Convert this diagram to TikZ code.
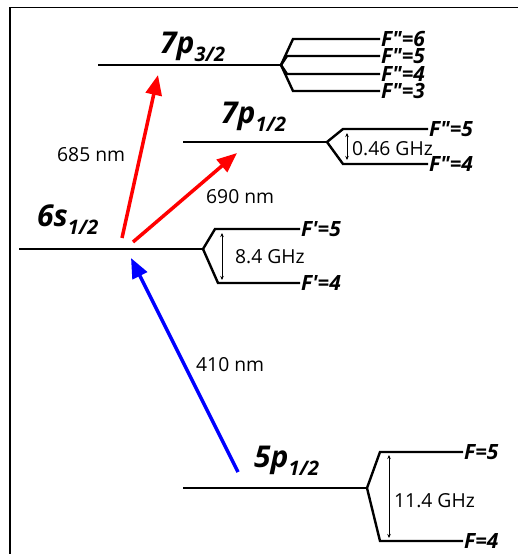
\documentclass[tikz,border=0pt]{standalone}
\usepackage{fontspec}
\setmainfont{Open Sans}
\usetikzlibrary{arrows.meta}
\begin{document}
\begin{tikzpicture}[x=1pt,y=-1pt,
  lvl/.style={line width=2.4pt, line join=miter},
  flab/.style={anchor=west, inner xsep=1pt, inner ysep=0pt, text height=15pt, text depth=0pt, font=\fontsize{21}{21}\selectfont\bfseries\itshape},
  txt/.style={anchor=base west, inner sep=0pt, font=\fontsize{19.3}{19.3}\selectfont},
  biglab/.style={anchor=base west, inner sep=0pt, font=\fontsize{30}{30}\selectfont\bfseries\itshape},
  laser/.style={line width=3.5pt, -{Triangle[length=20pt,width=16pt]}},
  gaparrow/.style={line width=0.8pt, {Stealth[length=4pt,width=3.5pt]}-{Stealth[length=4pt,width=3.5pt]}},
]
\newcommand{\subs}[1]{\raisebox{-8pt}{\fontsize{20}{20}\selectfont #1}}
\useasboundingbox (0,0) rectangle (518,554);
\draw[line width=1.5pt] (10,554) -- (10,7.5) -- (518,7.5);

% 7p 3/2
\coordinate (a0) at (98,65); \coordinate (a1) at (281,65);
\draw[lvl] (a0) -- (a1);
\coordinate (a6s) at (293,39); \coordinate (a6e) at (380,39);
\coordinate (a5s) at (287,56); \coordinate (a5e) at (380,56);
\coordinate (a4s) at (287,74); \coordinate (a4e) at (380,74);
\coordinate (a3s) at (293,91); \coordinate (a3e) at (380,91);
\draw[lvl] (a1) -- (a6s) -- (a6e);
\draw[lvl] (a1) -- (a5s) -- (a5e);
\draw[lvl] (a1) -- (a4s) -- (a4e);
\draw[lvl] (a1) -- (a3s) -- (a3e);
\node[flab] (f6) at (a6e) {F″=6};
\node[flab] (f5) at (a5e) {F″=5};
\node[flab] (f4) at (a4e) {F″=4};
\node[flab] (f3) at (a3e) {F″=3};
\node[biglab] (l7p3) at (160,53) {7p\subs{3/2}};

% 7p 1/2
\coordinate (b0) at (183,142); \coordinate (b1) at (327,142);
\draw[lvl] (b0) -- (b1);
\coordinate (b5s) at (343,129); \coordinate (b5e) at (428,129);
\coordinate (b4s) at (343,164); \coordinate (b4e) at (428,164);
\draw[lvl] (b1) -- (b5s) -- (b5e);
\draw[lvl] (b1) -- (b4s) -- (b4e);
\node[flab] (g5) at (b5e) {F″=5};
\node[flab] (g4) at (b4e) {F″=4};
\coordinate (bg1) at (347,133); \coordinate (bg2) at (347,160);
\draw[gaparrow] (bg1) -- (bg2);
\node[txt] (t046) at (352,155) {0.46 GHz};
\node[biglab] (l7p1) at (221,123) {7p\subs{1/2}};

% 6s 1/2
\coordinate (c0) at (19,249); \coordinate (c1) at (203,249);
\draw[lvl] (c0) -- (c1);
\coordinate (c5s) at (215,229); \coordinate (c5e) at (300,229);
\coordinate (c4s) at (218,283); \coordinate (c4e) at (300,283);
\draw[lvl] (c1) -- (c5s) -- (c5e);
\draw[lvl] (c1) -- (c4s) -- (c4e);
\node[flab] (h5) at (c5e) {F′=5};
\node[flab] (h4) at (c4e) {F′=4};
\coordinate (cg1) at (222,233); \coordinate (cg2) at (222,280);
\draw[gaparrow] (cg1) -- (cg2);
\node[txt] (t84) at (235,263) {8.4 GHz};
\node[biglab] (l6s) at (37,226) {6s\subs{1/2}};

% 5p 1/2
\coordinate (d0) at (183,488); \coordinate (d1) at (367,488);
\draw[lvl] (d0) -- (d1);
\coordinate (d5s) at (380,452); \coordinate (d5e) at (463,452);
\coordinate (d4s) at (380,541); \coordinate (d4e) at (463,541);
\draw[lvl] (d1) -- (d5s) -- (d5e);
\draw[lvl] (d1) -- (d4s) -- (d4e);
\node[flab] (k5) at (d5e) {F=5};
\node[flab] (k4) at (d4e) {F=4};
\coordinate (dg1) at (389,455); \coordinate (dg2) at (389,538);
\draw[gaparrow] (dg1) -- (dg2);
\node[txt] (t114) at (394,507) {11.4 GHz};
\node[biglab] (l5p) at (254,467) {5p\subs{1/2}};

% lasers
\coordinate (r1s) at (122,238); \coordinate (r1e) at (158,75);
\coordinate (r2s) at (133,242); \coordinate (r2e) at (237,153);
\coordinate (bls) at (238,472); \coordinate (ble) at (131,258);
\draw[laser, red] (r1s) -- (r1e);
\draw[laser, red] (r2s) -- (r2e);
\draw[laser, blue] (bls) -- (ble);
\node[txt] (n685) at (57,161) {685 nm};
\node[txt] (n690) at (206,203) {690 nm};
\node[txt] (n410) at (196,371) {410 nm};
\end{tikzpicture}
\end{document}
